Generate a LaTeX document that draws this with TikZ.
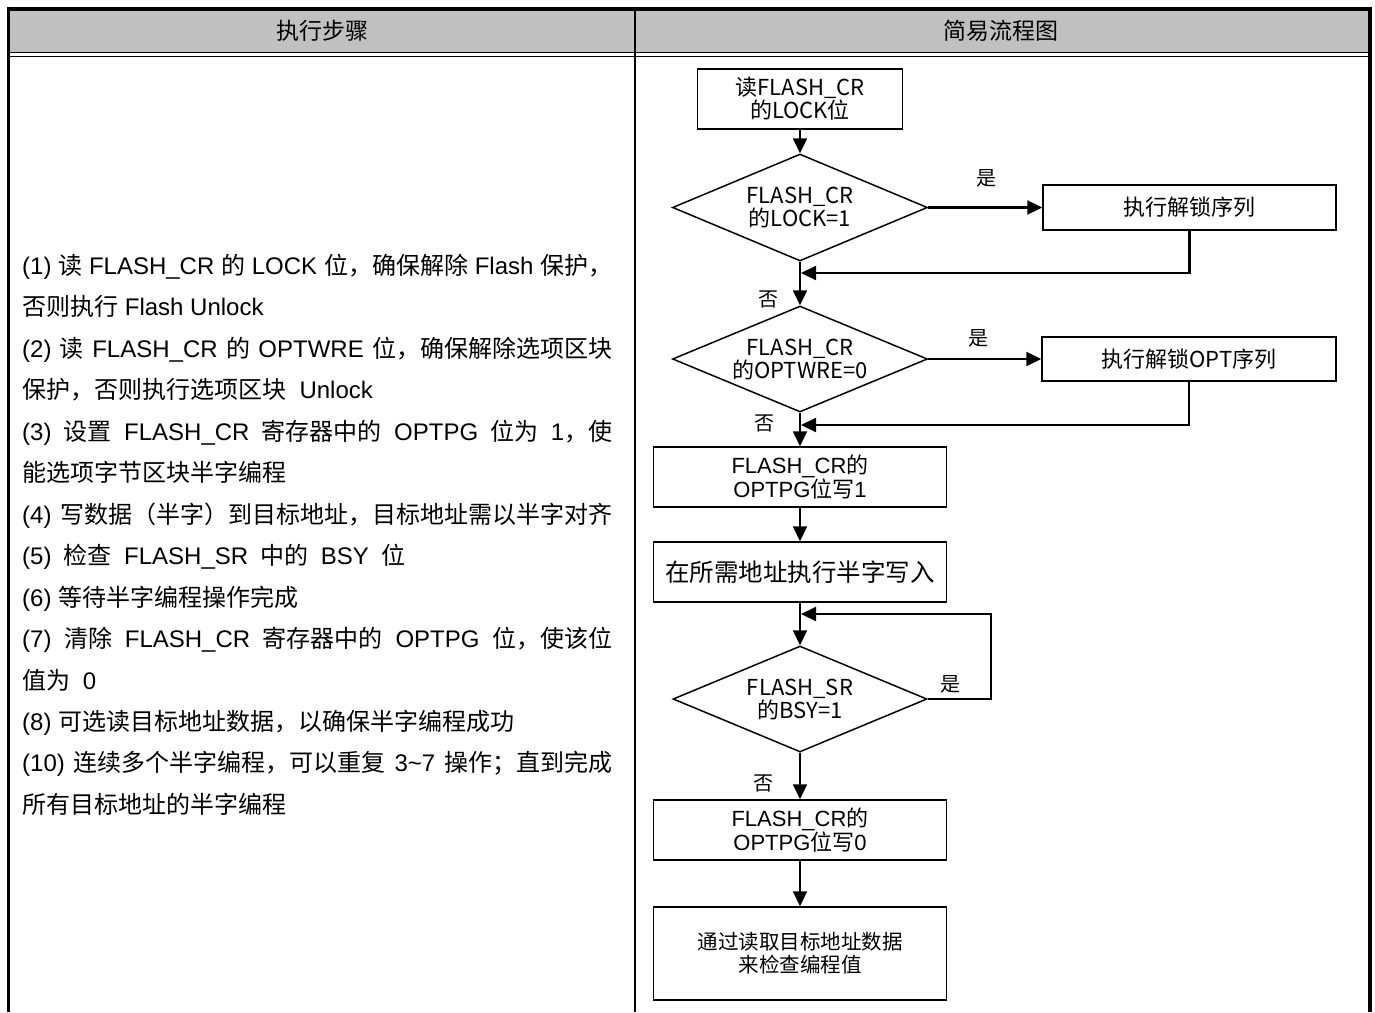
\documentclass[tikz,border=0pt]{standalone}
\usepackage{fontspec}
\setmainfont{Liberation Sans}
\newfontfamily\cjk{Noto Sans CJK SC}
\usetikzlibrary{shapes.geometric,arrows.meta,calc}
\definecolor{HeaderGray}{HTML}{C0C0C0}
\newcommand\zh[1]{{\cjk #1}}
\newcommand\fullline[1]{\makebox[590pt][s]{#1}}
\tikzset{
  box/.style={draw, line width=1.5pt, inner sep=0pt, align=center,
    font=\cjk\fontsize{22}{23}\selectfont},
  decision/.style={box, diamond, aspect=2.4},
  flow/.style={line width=2.2pt, -{Triangle[length=15pt,width=14pt]}},
  lbl/.style={inner sep=0pt, font=\cjk\fontsize{20}{20}\selectfont},
}

\begin{document}
\begin{tikzpicture}[x=1pt, y=-1pt]
   \useasboundingbox (0,0) rectangle (1375,1012);
   % table frame
   \fill[HeaderGray] (8.5,9) rectangle (1370,51.5);
   \draw[line width=1.6pt] (8.5,52.5) -- (1370,52.5);
   \draw[line width=1.8pt] (8.5,56.5) -- (1370,56.5);
   \draw[line width=2pt] (634.5,9) -- (634.5,1012);
   \draw[line width=3.8pt] (8.5,1012) -- (8.5,9) -- (1370,9) -- (1370,1012);
   \node[font=\cjk\fontsize{23}{23}\selectfont] (steps) at (322,31) {执行步骤};
   \node[font=\cjk\fontsize{23}{23}\selectfont] (chart) at (1001,31) {简易流程图};

   % steps text
   \foreach \txt [count=\i from 0] in {
     {\fullline{(1) \zh{读} FLASH\_CR \zh{的} LOCK \zh{位，确保解除} Flash \zh{保护，}}},
     {\zh{否则执行} Flash Unlock},
     {\fullline{(2) \zh{读} FLASH\_CR \zh{的} OPTWRE \zh{位，确保解除选项区块}}},
     {\zh{保护，否则执行选项区块}\ \ Unlock},
     {\fullline{(3) \zh{设置} FLASH\_CR \zh{寄存器中的} OPTPG \zh{位为} 1\zh{，使}}},
     {\zh{能选项字节区块半字编程}},
     {\fullline{(4) \zh{写数据（半字）到目标地址，目标地址需以半字对齐}}},
     {\makebox[383pt][s]{(5) \zh{检查} FLASH\_SR \zh{中的} BSY \zh{位}}},
     {(6) \zh{等待半字编程操作完成}},
     {\fullline{(7) \zh{清除} FLASH\_CR \zh{寄存器中的} OPTPG \zh{位，使该位}}},
     {\makebox[74pt][s]{\zh{值为} 0}},
     {(8) \zh{可选读目标地址数据，以确保半字编程成功}},
     {\fullline{(10) \zh{连续多个半字编程，可以重复} 3\textasciitilde7 \zh{操作；直到完成}}},
     {\zh{所有目标地址的半字编程}}} {
    \node[anchor=base west, inner sep=0pt, font=\fontsize{24}{24}\selectfont]
      (line\i) at (22,{274.5+41.45*\i}) {\txt};
   }

   % flow chart
   \node[box, minimum width=205pt, minimum height=60pt] (read) at (800,99) {读FLASH\_CR\\的LOCK位};
   \node[decision, minimum width=255pt, minimum height=107pt] (lock) at (800,207.5) {FLASH\_CR\\的LOCK=1};
   \node[box, minimum width=293pt, minimum height=45pt] (unlock) at (1189.5,207.5) {执行解锁序列};
   \node[decision, minimum width=255pt, minimum height=106pt] (optwre) at (800,359) {FLASH\_CR\\的OPTWRE=0};
   \node[box, minimum width=294pt, minimum height=44pt] (unlockopt) at (1189,359) {执行解锁OPT序列};
   \node[box, minimum width=293pt, minimum height=60pt, font=\fontsize{22}{23}\selectfont] (setpg) at (800,477) {FLASH\_CR\zh{的}\\OPTPG\zh{位写}1};
   \node[box, minimum width=293pt, minimum height=60pt, font=\cjk\fontsize{24.5}{25}\selectfont] (write) at (800,572) {在所需地址执行半字写入};
   \node[decision, minimum width=254pt, minimum height=106pt] (busy) at (800,699) {FLASH\_SR\\的BSY=1};
   \node[box, minimum width=293pt, minimum height=60pt, font=\fontsize{22}{23}\selectfont] (clrpg) at (800,830) {FLASH\_CR\zh{的}\\OPTPG\zh{位写}0};
   \node[box, minimum width=293pt, minimum height=93pt, font=\cjk\fontsize{20.5}{23}\selectfont] (check) at (800,953.5) {通过读取目标地址数据\\来检查编程值};

   \coordinate (back1) at (801,273);
   \coordinate (back2) at (801,425);
   \coordinate (corner) at (991,614);
   \coordinate (back3) at (801,614);

   \draw[flow] (read) -- (lock);
   \draw[flow] (lock) -- (unlock);
   \draw[flow] (lock) -- (optwre);
   \draw[flow] (unlock) |- (back1);
   \draw[flow] (optwre) -- (unlockopt);
   \draw[flow] (optwre) -- (setpg);
   \draw[flow] (unlockopt) |- (back2);
   \draw[flow] (setpg) -- (write);
   \draw[flow] (write) -- (busy);
   \draw[flow] (busy) -| (corner) -- (back3);
   \draw[flow] (busy) -- (clrpg);
   \draw[flow] (clrpg) -- (check);

   \node[lbl] (yes1) at (986,178) {是};
   \node[lbl] (no1) at (768,299) {否};
   \node[lbl] (yes2) at (978,338) {是};
   \node[lbl] (no2) at (764,423) {否};
   \node[lbl] (yes3) at (950,684) {是};
   \node[lbl] (no3) at (763,783) {否};
  \end{tikzpicture}
\end{document}
